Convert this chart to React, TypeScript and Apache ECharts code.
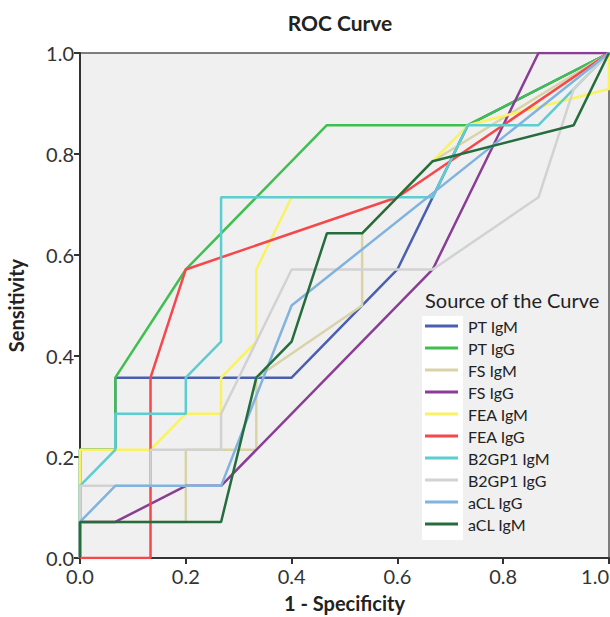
import React, { useEffect, useRef } from "react";
import * as echarts from "echarts";

const seriesNames = [
  "PT IgM",
  "PT IgG",
  "FS IgM",
  "FS IgG",
  "FEA IgM",
  "FEA IgG",
  "B2GP1 IgM",
  "B2GP1 IgG",
  "aCL IgG",
  "aCL IgM",
];

const seriesColors = [
  "#4a5fb0",
  "#3fbf4f",
  "#d9d4a8",
  "#8a3d94",
  "#f9f262",
  "#f6474b",
  "#5ccdd0",
  "#d2d2d2",
  "#80b3df",
  "#256d3c",
];

// 1 - Specificity (x) and Sensitivity (y) for each curve
const ptIgmX = [0, 0, 0.0667, 0.0667, 0.4, 0.6, 0.7333, 1];
const ptIgmY = [0, 0.2143, 0.2143, 0.3571, 0.3571, 0.5714, 0.8571, 1];

const ptIggX = [0, 0, 0.0667, 0.0667, 0.2, 0.4667, 0.7333, 1];
const ptIggY = [0, 0.2143, 0.2143, 0.3571, 0.5714, 0.8571, 0.8571, 1];

const fsIgmX = [0, 0, 0.2, 0.2, 0.3333, 0.3333, 0.5333, 0.5333, 0.6667, 1];
const fsIgmY = [0, 0.0714, 0.0714, 0.2143, 0.2143, 0.3571, 0.5, 0.6429, 0.7857, 1];

const fsIggX = [0, 0, 0.0667, 0.2, 0.2667, 0.6667, 0.8667, 1];
const fsIggY = [0, 0.0714, 0.0714, 0.1429, 0.1429, 0.5714, 1, 1];

const feaIgmX = [0, 0, 0.1333, 0.2, 0.2667, 0.2667, 0.3333, 0.3333, 0.4, 0.6, 0.6667, 0.7333, 1, 1];
const feaIgmY = [0, 0.2143, 0.2143, 0.2857, 0.2857, 0.3571, 0.4286, 0.5714, 0.7143, 0.7143, 0.7857, 0.8571, 0.9286, 1];

const feaIggX = [0, 0.1333, 0.1333, 0.2, 0.6, 1];
const feaIggY = [0, 0, 0.3571, 0.5714, 0.7143, 1];

const b2gp1IgmX = [0, 0, 0.0667, 0.0667, 0.2, 0.2, 0.2667, 0.2667, 0.6667, 0.7333, 0.8667, 0.9333, 1];
const b2gp1IgmY = [0, 0.1429, 0.2143, 0.2857, 0.2857, 0.3571, 0.4286, 0.7143, 0.7143, 0.8571, 0.8571, 0.9286, 1];

const b2gp1IggX = [0, 0, 0.1333, 0.1333, 0.2667, 0.2667, 0.4, 0.6667, 0.8667, 0.9333, 1];
const b2gp1IggY = [0, 0.1429, 0.1429, 0.2143, 0.2143, 0.2857, 0.5714, 0.5714, 0.7143, 0.9286, 1];

const aclIggX = [0, 0, 0.0667, 0.2667, 0.4, 1];
const aclIggY = [0, 0.0714, 0.1429, 0.1429, 0.5, 1];

const aclIgmX = [0, 0, 0.2667, 0.3333, 0.4, 0.4667, 0.5333, 0.6667, 0.9333, 1];
const aclIgmY = [0, 0.0714, 0.0714, 0.3571, 0.4286, 0.6429, 0.6429, 0.7857, 0.8571, 1];

const allX = [ptIgmX, ptIggX, fsIgmX, fsIggX, feaIgmX, feaIggX, b2gp1IgmX, b2gp1IggX, aclIggX, aclIgmX];
const allY = [ptIgmY, ptIggY, fsIgmY, fsIggY, feaIgmY, feaIggY, b2gp1IgmY, b2gp1IggY, aclIggY, aclIgmY];

const FONT = "Lato, 'DejaVu Sans', sans-serif";

export default function App() {
  const ref = useRef<HTMLDivElement>(null);

  useEffect(() => {
    if (!ref.current) return;
    const chart = echarts.init(ref.current, undefined, { renderer: "svg" });

    const series = seriesNames.map((name, i) => ({
      name,
      type: "line",
      data: allX[i].map((x, j) => [x, allY[i][j]]),
      symbol: "none",
      showSymbol: false,
      lineStyle: { color: seriesColors[i], width: 2.5 },
      itemStyle: { color: seriesColors[i] },
      z: 2 + i,
    }));

    const option = {
      animation: false,
      title: {
        text: "ROC Curve",
        left: 335,
        top: 7,
        textAlign: "center",
        textStyle: { fontFamily: FONT, fontSize: 21, fontWeight: "bold", color: "#222" },
      },
      grid: {
        left: 80,
        right: 1,
        top: 53,
        bottom: 59,
        show: true,
        backgroundColor: "#f0f0f0",
        borderColor: "#555",
        borderWidth: 1.5,
        outerBoundsMode: "none",
        containLabel: false,
      },
      xAxis: {
        type: "value",
        min: 0,
        max: 1,
        interval: 0.2,
        name: "1 - Specificity",
        nameLocation: "middle",
        nameGap: 35,
        nameTextStyle: { fontFamily: FONT, fontSize: 20, fontWeight: "bold", color: "#222" },
        axisLine: { show: true, lineStyle: { color: "#333", width: 2 } },
        axisTick: { show: true, length: 6, lineStyle: { color: "#333", width: 2 } },
        axisLabel: {
          fontFamily: FONT,
          fontSize: 20,
          lineHeight: 20,
          color: "#333",
          margin: 8,
          alignMaxLabel: "right",
          formatter: (v: number) => v.toFixed(1),
        },
        splitLine: { show: false },
      },
      yAxis: {
        type: "value",
        min: 0,
        max: 1,
        interval: 0.2,
        name: "Sensitivity",
        nameLocation: "middle",
        nameGap: 54,
        nameTextStyle: { fontFamily: FONT, fontSize: 20, fontWeight: "bold", color: "#222" },
        axisLine: { show: true, lineStyle: { color: "#333", width: 2 } },
        axisTick: { show: true, length: 6, lineStyle: { color: "#333", width: 2 } },
        axisLabel: {
          fontFamily: FONT,
          fontSize: 20,
          lineHeight: 18,
          color: "#333",
          margin: 6,
          formatter: (v: number) => v.toFixed(1),
        },
        splitLine: { show: false },
      },
      legend: {
        orient: "vertical",
        left: 425,
        top: 318,
        z: 60,
        icon: "rect",
        itemWidth: 33,
        itemHeight: 3,
        itemGap: 6,
        padding: 0,
        data: seriesNames,
        textStyle: {
          fontFamily: FONT,
          fontSize: 16,
          color: "#222",
          padding: [0, 0, 0, 5],
          lineHeight: 14,
        },
      },
      graphic: [
        {
          type: "rect",
          z: 50,
          shape: { x: 422, y: 316, width: 41, height: 224 },
          style: { fill: "#ffffff" },
        },
        {
          type: "text",
          z: 60,
          x: 425,
          y: 300,
          style: {
            text: "Source of the Curve",
            fontFamily: FONT,
            fontSize: 20,
            fill: "#222",
            verticalAlign: "middle",
          },
        },
      ],
      series,
    };

    chart.setOption(option as any);
    return () => chart.dispose();
  }, []);

  return (
    <div
      ref={ref}
      style={{ position: "fixed", left: 0, top: 0, width: 610, height: 617, background: "#fff" }}
    />
  );
}
